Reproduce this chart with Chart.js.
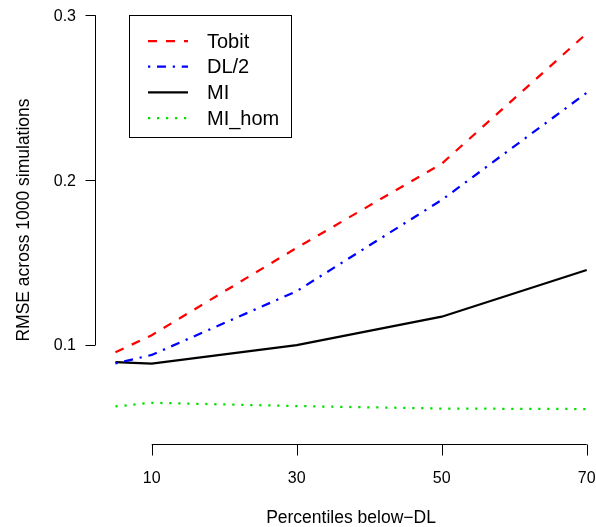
<!DOCTYPE html>
<html>
<head>
<meta charset="utf-8">
<script src="https://cdn.jsdelivr.net/npm/chart.js@4/dist/chart.umd.min.js"></script>
<style>
  html, body { margin: 0; padding: 0; background: #fff; }
  #wrap { width: 596px; height: 527px; position: relative; }
</style>
</head>
<body>
<div id="wrap"><canvas id="rmse"></canvas></div>
<script>
'use strict';

// values
const percentiles = [5, 10, 30, 50, 70];
const tobit  = [0.0956, 0.106, 0.159, 0.210, 0.289];
const dl2    = [0.0889, 0.094, 0.1327, 0.188, 0.253];
const mi     = [0.0897, 0.0887, 0.100, 0.1172, 0.1455];
const miHom  = [0.0628, 0.065, 0.0630, 0.0615, 0.0612];

const xTicks = [10, 30, 50, 70];
const yTicks = [0.1, 0.2, 0.3];
const yTickLabels = ['0.1', '0.2', '0.3'];

const FONT = '"Liberation Sans", Arial, Helvetica, sans-serif';

const pts = ys => percentiles.map((x, i) => ({ x, y: ys[i] }));

const series = [
  { label: 'Tobit',  data: pts(tobit), color: '#ff0000', dash: [9, 9] },
  { label: 'DL/2',   data: pts(dl2),   color: '#0000ff', dash: [2.25, 6.75, 9, 6.75] },
  { label: 'MI',     data: pts(mi),    color: '#000000', dash: [] },
  { label: 'MI_hom', data: pts(miHom), color: '#00e000', dash: [2.25, 6.75] },
];

// R-style axes, titles and framed legend
const rBase = {
  id: 'rBase',
  afterDraw(chart) {
    const { ctx, chartArea: a, scales: { x, y } } = chart;
    ctx.save();
    ctx.strokeStyle = '#000';
    ctx.fillStyle = '#000';
    ctx.lineWidth = 1;
    ctx.setLineDash([]);

    // y axis
    const yl = Math.round(a.left) - 0.5;
    ctx.beginPath();
    ctx.moveTo(yl, y.getPixelForValue(yTicks[0]));
    ctx.lineTo(yl, y.getPixelForValue(yTicks[yTicks.length - 1]));
    yTicks.forEach(v => {
      const py = Math.round(y.getPixelForValue(v)) + 0.5;
      ctx.moveTo(yl, py); ctx.lineTo(yl - 10, py);
    });
    ctx.stroke();
    ctx.font = '16px ' + FONT;
    ctx.textAlign = 'right';
    ctx.textBaseline = 'middle';
    yTicks.forEach((v, i) => ctx.fillText(yTickLabels[i], 76, y.getPixelForValue(v) + 1));

    // x axis
    const xb = Math.round(a.bottom) + 0.5;
    ctx.beginPath();
    ctx.moveTo(x.getPixelForValue(xTicks[0]), xb);
    ctx.lineTo(x.getPixelForValue(xTicks[xTicks.length - 1]), xb);
    xTicks.forEach(v => {
      const px = Math.round(x.getPixelForValue(v)) + 0.5;
      ctx.moveTo(px, xb); ctx.lineTo(px, xb + 11);
    });
    ctx.stroke();
    ctx.textAlign = 'center';
    xTicks.forEach(v => ctx.fillText(String(v), x.getPixelForValue(v), 479));

    // titles
    ctx.font = '17.5px ' + FONT;
    ctx.fillText('Percentiles below\u2212DL', 351, 518);
    ctx.save();
    ctx.translate(24, 220);
    ctx.rotate(-Math.PI / 2);
    ctx.fillText('RMSE across 1000 simulations', 0, 0);
    ctx.restore();

    // legend
    ctx.strokeRect(129.5, 15.5, 162, 122);
    ctx.font = '20px ' + FONT;
    ctx.textAlign = 'left';
    chart.data.datasets.forEach((ds, i) => {
      const ly = 41 + i * 25.7;
      ctx.save();
      ctx.strokeStyle = ds.borderColor;
      ctx.lineWidth = ds.borderWidth;
      ctx.setLineDash(ds.borderDash);
      ctx.beginPath();
      ctx.moveTo(148, ly); ctx.lineTo(188, ly);
      ctx.stroke();
      ctx.restore();
      ctx.fillText(ds.label, 207, ly + 1);
    });
    ctx.restore();
  }
};

new Chart(document.getElementById('rmse'), {
  type: 'line',
  data: {
    datasets: series.map(s => ({
      label: s.label,
      data: s.data,
      borderColor: s.color,
      borderDash: s.dash,
      borderWidth: 2.25,
      borderCapStyle: 'butt',
      pointRadius: 0,
      tension: 0,
      fill: false,
    })),
  },
  options: {
    responsive: true,
    maintainAspectRatio: false,
    animation: false,
    layout: { padding: { left: 96, right: 0, top: 0, bottom: 83 } },
    scales: {
      x: { type: 'linear', min: 2.317, max: 71.28, display: false },
      y: { type: 'linear', min: 0.04, max: 0.30927, display: false },
    },
    plugins: { legend: { display: false }, tooltip: { enabled: false } },
  },
  plugins: [rBase],
});
</script>
</body>
</html>
